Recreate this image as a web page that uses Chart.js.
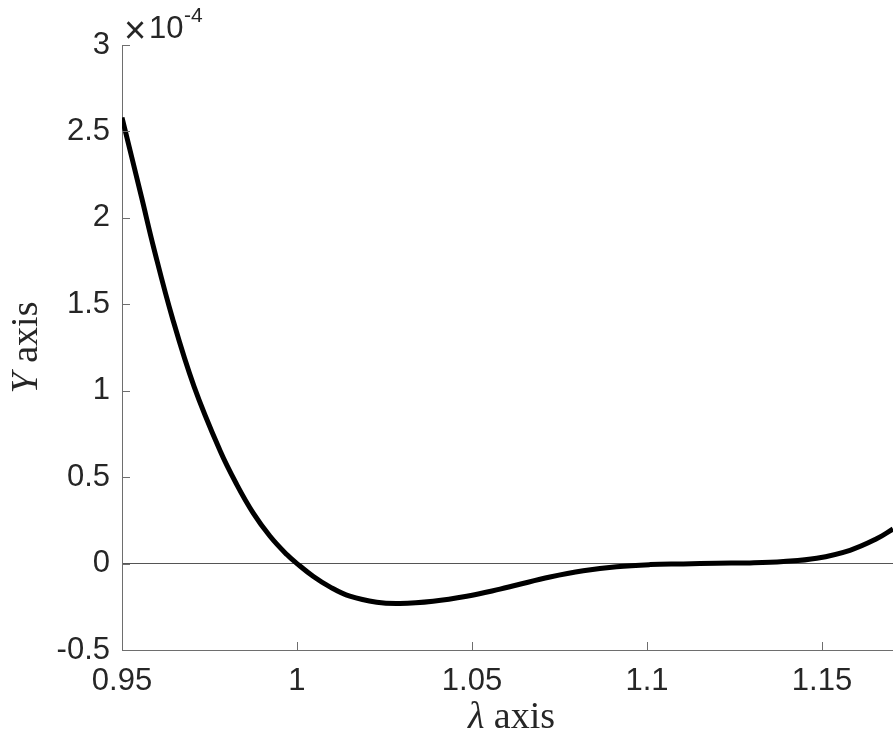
<!DOCTYPE html>
<html>
<head>
<meta charset="utf-8">
<script src="https://cdn.jsdelivr.net/npm/chart.js@4.4.1/dist/chart.umd.min.js"></script>
<style>
  html, body { margin: 0; padding: 0; background: #ffffff; }
  #wrap { width: 893px; height: 738px; }
</style>
</head>
<body>
<div id="wrap"><canvas id="c" width="893" height="738"></canvas></div>
<script>
// ---- data (y values in units of 1e-4) ----
const lambdaValues = [0.95, 0.9556, 0.9591, 0.9644, 0.9706, 0.978, 0.9828, 0.9875, 0.9923, 0.9971,
  1.0, 1.0047, 1.0094, 1.0151, 1.0228, 1.0294, 1.0389, 1.0485, 1.058, 1.0628,
  1.0723, 1.0818, 1.0913, 1.1009, 1.1104, 1.1199, 1.1294, 1.139, 1.1485, 1.158,
  1.1656, 1.1703];
const yValues = [2.58, 2.118, 1.824, 1.421, 1.024, 0.654, 0.457, 0.292, 0.158, 0.052,
  0.0, -0.075, -0.135, -0.189, -0.224, -0.231, -0.218, -0.189, -0.148, -0.124,
  -0.078, -0.042, -0.018, -0.006, -0.002, 0.002, 0.004, 0.012, 0.031, 0.077,
  0.143, 0.200];
const xTicks = [0.95, 1, 1.05, 1.1, 1.15];
const yTicks = [-0.5, 0, 0.5, 1, 1.5, 2, 2.5, 3];
const xRange = [0.95, 1.1703];
const yRange = [-0.5, 3];
const xTitleSymbol = 'λ';
const xTitleText = ' axis';
const yTitleSymbol = 'Y';
const yTitleText = ' axis';
const exponentSign = '×';
const exponentBase = '10';
const exponentPower = '-4';

const TEXT = '#262626';
const AXIS = '#6e6e6e';
const SANS = '"Liberation Sans", Arial, Helvetica, sans-serif';
const SERIF = '"Liberation Serif", "DejaVu Serif", serif';

const fmt = v => String(Number(v.toFixed(4)));

const decorPlugin = {
  id: 'decor',
  afterDraw(chart) {
    const ctx = chart.ctx;
    const xs = chart.scales.x, ys = chart.scales.y;
    const area = chart.chartArea;
    ctx.save();
    // inward tick marks
    ctx.strokeStyle = AXIS;
    ctx.lineWidth = 1;
    ctx.beginPath();
    xTicks.forEach(v => {
      const px = Math.round(xs.getPixelForValue(v)) + 0.5;
      ctx.moveTo(px, area.bottom);
      ctx.lineTo(px, area.bottom - 8);
    });
    yTicks.forEach(v => {
      const py = Math.round(ys.getPixelForValue(v)) + 0.5;
      ctx.moveTo(area.left, py);
      ctx.lineTo(area.left + 8, py);
    });
    ctx.stroke();

    ctx.fillStyle = TEXT;
    ctx.textBaseline = 'alphabetic';
    ctx.textAlign = 'left';

    // x axis title
    const fs = 38;
    const italic = 'italic ' + fs + 'px ' + SERIF;
    const normal = fs + 'px ' + SERIF;
    ctx.font = italic;
    const w1 = ctx.measureText(xTitleSymbol).width;
    ctx.font = normal;
    const w2 = ctx.measureText(xTitleText).width;
    const cx = (area.left + area.right) / 2 + 4;
    let sx = cx - (w1 + w2) / 2;
    ctx.font = italic; ctx.fillText(xTitleSymbol, sx, 728);
    ctx.font = normal; ctx.fillText(xTitleText, sx + w1, 728);

    // y axis title (rotated)
    ctx.save();
    ctx.translate(37, (area.top + area.bottom) / 2);
    ctx.rotate(-Math.PI / 2);
    ctx.font = italic;
    const w3 = ctx.measureText(yTitleSymbol).width;
    ctx.font = normal;
    const w4 = ctx.measureText(yTitleText).width;
    sx = -(w3 + w4) / 2;
    ctx.font = italic; ctx.fillText(yTitleSymbol, sx, 0);
    ctx.font = normal; ctx.fillText(yTitleText, sx + w3, 0);
    ctx.restore();

    // exponent label
    ctx.font = '38px ' + SANS;
    ctx.fillText(exponentSign, area.left + 2, 43);
    ctx.font = '31px ' + SANS;
    ctx.fillText(exponentBase, area.left + 27, 38);
    ctx.font = '21px ' + SANS;
    ctx.fillText(exponentPower, area.left + 62, 22);
    ctx.restore();
  }
};

new Chart(document.getElementById('c'), {
  type: 'line',
  data: {
    datasets: [{
      data: lambdaValues.map((x, i) => ({ x: x, y: yValues[i] })),
      borderColor: '#000000',
      borderWidth: 5,
      pointRadius: 0,
      fill: false,
      tension: 0.4
    }]
  },
  options: {
    responsive: false,
    animation: false,
    events: [],
    layout: { padding: { left: 0, top: 45, right: 0, bottom: 0 } },
    plugins: { legend: { display: false }, tooltip: { enabled: false }, title: { display: false } },
    scales: {
      x: {
        type: 'linear',
        min: xRange[0],
        max: xRange[1],
        afterBuildTicks: s => { s.ticks = xTicks.map(v => ({ value: v })); },
        afterFit: s => { s.height = 88; },
        grid: { display: false, drawTicks: false },
        border: { display: true, color: AXIS, width: 1 },
        ticks: {
          padding: 13,
          maxRotation: 0,
          autoSkip: false,
          color: TEXT,
          font: { family: SANS, size: 31 },
          callback: v => fmt(v)
        }
      },
      y: {
        type: 'linear',
        min: yRange[0],
        max: yRange[1],
        afterBuildTicks: s => { s.ticks = yTicks.map(v => ({ value: v })); },
        afterFit: s => { s.width = 122; },
        grid: {
          display: true,
          drawTicks: false,
          color: c => (c.tick && c.tick.value === 0) ? '#555555' : 'rgba(0,0,0,0)',
          lineWidth: 1
        },
        border: { display: true, color: AXIS, width: 1 },
        ticks: {
          padding: 12,
          autoSkip: false,
          color: TEXT,
          font: { family: SANS, size: 31 },
          callback: v => fmt(v)
        }
      }
    }
  },
  plugins: [decorPlugin]
});
</script>
</body>
</html>
